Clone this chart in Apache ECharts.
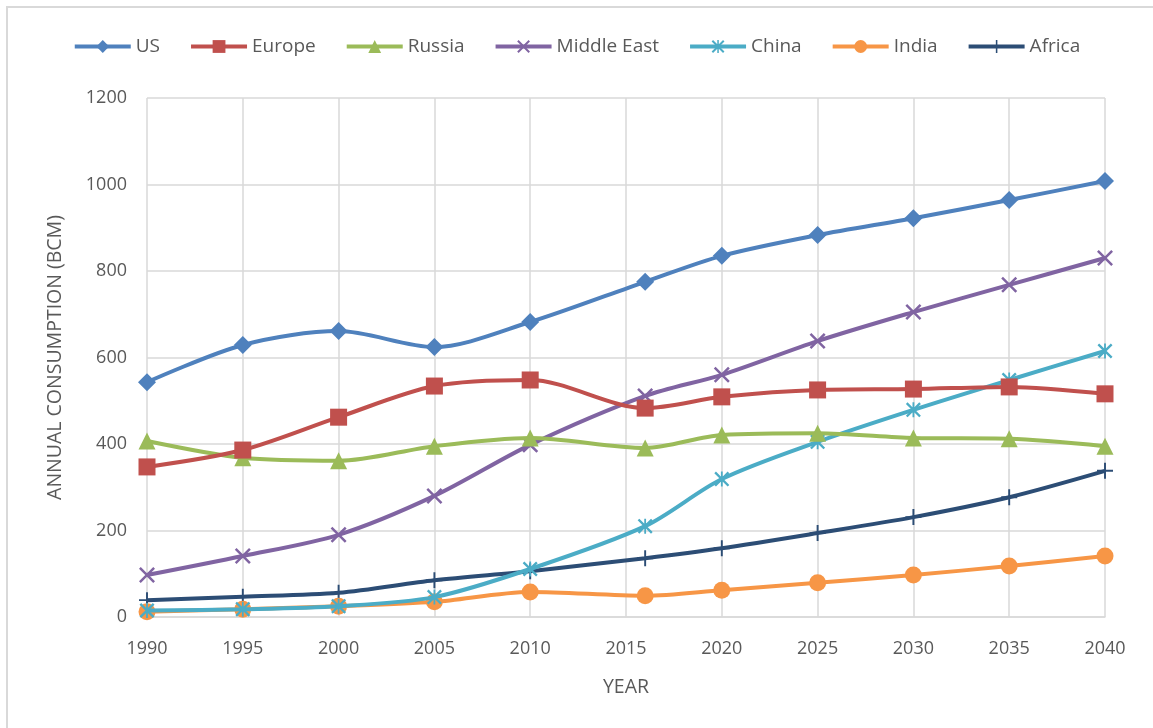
<!DOCTYPE html>
<html>
<head>
<meta charset="utf-8">
<script src="https://cdn.jsdelivr.net/npm/echarts@6/dist/echarts.min.js"></script>
<style>
html,body{margin:0;padding:0;background:#fff;overflow:hidden;}
#frame{position:absolute;left:6px;top:6px;width:1300px;height:900px;border:2px solid #d9d9d9;box-sizing:border-box;}
#chart{position:absolute;left:0;top:0;width:1153px;height:728px;}
</style>
</head>
<body>
<div id="frame"></div>
<div id="chart"></div>
<script>
const years = [1990, 1995, 2000, 2005, 2010, 2016, 2020, 2025, 2030, 2035, 2040];
const xTicks = [1990, 1995, 2000, 2005, 2010, 2015, 2020, 2025, 2030, 2035, 2040];
const seriesNames = ['US', 'Europe', 'Russia', 'Middle East', 'China', 'India', 'Africa'];
const us = [543, 629, 661, 624, 682, 775, 835, 883, 922, 964, 1008];
const europe = [347, 386, 462, 534, 548, 483, 509, 525, 527, 532, 516];
const russia = [407, 368, 361, 395, 414, 391, 421, 425, 414, 412, 395];
const middleEast = [97, 141, 190, 280, 398, 511, 560, 638, 705, 768, 830];
const china = [15, 18, 25, 46, 111, 210, 319, 405, 479, 548, 615];
const india = [12, 18, 25, 35, 58, 49, 62, 79, 97, 118, 141];
const africa = [39, 47, 56, 85, 106, 136, 159, 194, 231, 277, 338];

const values = [us, europe, russia, middleEast, china, india, africa];
const colors = ['#4F81BD', '#C0504D', '#9BBB59', '#8064A2', '#4BACC6', '#F79646', '#2C4D75'];
const xPath = 'path://M0,1.1L1.1,0L5,3.9L8.9,0L10,1.1L6.1,5L10,8.9L8.9,10L5,6.1L1.1,10L0,8.9L3.9,5Z';
const plusPath = 'path://M4.4,0H5.6V4.4H10V5.6H5.6V10H4.4V5.6H0V4.4H4.4Z';
const starPath = 'path://M0,1.1L1.1,0L5,3.9L8.9,0L10,1.1L6.1,5L10,8.9L8.9,10L5,6.1L1.1,10L0,8.9L3.9,5Z M4.4,0H5.6V10H4.4Z';
const symbols = ['diamond', 'rect', 'triangle', xPath, starPath, 'circle', plusPath];
const sizes = [18, 17, 17, 16, 15, 17, 16];

const font = '"Open Sans", "Noto Sans", sans-serif';
const chart = echarts.init(document.getElementById('chart'));
chart.setOption({
  animation: false,
  textStyle: {fontFamily: font},
  legend: {
    top: 32,
    left: 'center',
    itemWidth: 56,
    itemHeight: 16,
    itemGap: 29,
    lineStyle: {width: 4},
    textStyle: {fontSize: 19, color: '#595959', fontFamily: font},
    data: seriesNames
  },
  grid: {left: 147, right: 48, top: 98, bottom: 111},
  xAxis: {
    type: 'value',
    min: 1990, max: 2040, interval: 5,
    name: 'YEAR',
    nameLocation: 'middle',
    nameGap: 60,
    nameTextStyle: {fontSize: 19.5, color: '#595959'},
    axisLine: {show: true, lineStyle: {color: '#d9d9d9', width: 1.5}},
    axisTick: {show: false},
    axisLabel: {fontSize: 18, color: '#595959', margin: 23,
      formatter: v => xTicks.includes(v) ? String(v) : ''},
    splitLine: {show: true, lineStyle: {color: '#d9d9d9', width: 1.5}}
  },
  yAxis: {
    type: 'value',
    min: 0, max: 1200, interval: 200,
    name: 'ANNUAL CONSUMPTION (BCM)',
    nameLocation: 'middle',
    nameGap: 82,
    nameTextStyle: {fontSize: 19.5, color: '#595959'},
    axisLine: {show: false},
    axisTick: {show: false},
    axisLabel: {fontSize: 18, color: '#595959', margin: 20, formatter: v => String(v)},
    splitLine: {show: true, lineStyle: {color: '#d9d9d9', width: 1.5}}
  },
  series: seriesNames.map((n, i) => ({
    name: n,
    type: 'line',
    smooth: 0.3,
    data: years.map((y, j) => [y, values[i][j]]),
    symbol: symbols[i],
    symbolSize: sizes[i],
    showAllSymbol: true,
    lineStyle: {color: colors[i], width: 4},
    itemStyle: {color: colors[i]},
    z: 10 - i
  }))
});
</script>
</body>
</html>
